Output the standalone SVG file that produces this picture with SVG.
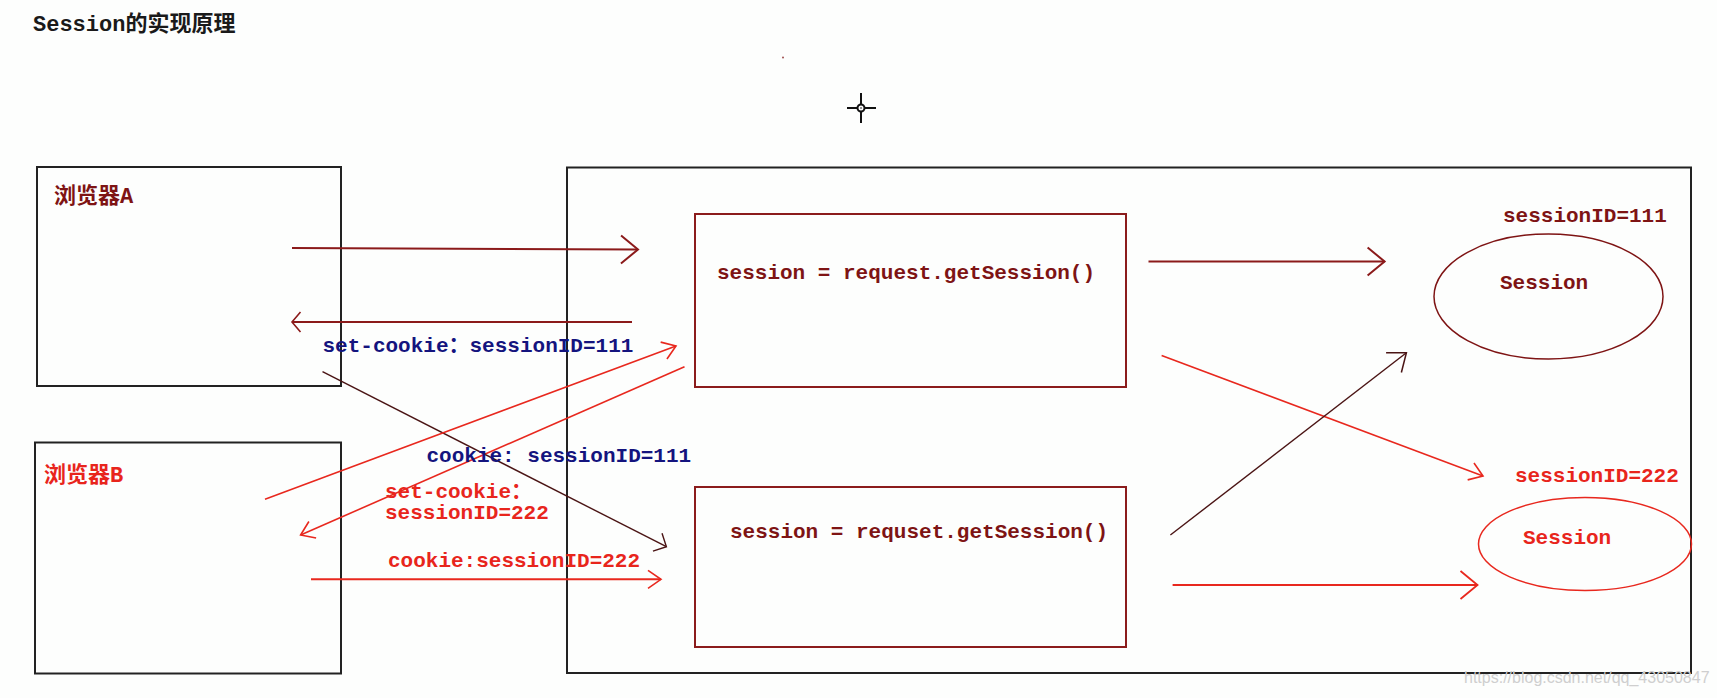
<svg xmlns="http://www.w3.org/2000/svg" width="1717" height="698" viewBox="0 0 1717 698">
<style>
.mono{font-family:"Liberation Mono","Noto Sans CJK SC",monospace;font-size:21px;font-weight:bold}
.title{font-family:"Liberation Mono","Noto Sans CJK SC",monospace;font-size:22px;font-weight:bold;fill:#1a1a1a}
.cjk{font-family:"Liberation Mono","Noto Sans CJK SC",monospace;font-size:22px;font-weight:bold}
.maroon{fill:#7e1414}
.red{fill:#e8251c}
.navy{fill:#14147e}
.obox{fill:none;stroke:#222;stroke-width:2}
.ibox{fill:none;stroke:#8b1c1c;stroke-width:2}
.lm{fill:none;stroke:#8b1a1a;stroke-width:2}
.lr{fill:none;stroke:#e8281e;stroke-width:1.6}
.lr2{fill:none;stroke:#e8281e;stroke-width:2}
.ld{fill:none;stroke:#4a1414;stroke-width:1.4}
.wm{font-family:"Liberation Sans",Arial,sans-serif;font-size:16px;fill:#cfcfcf}
</style>
<defs>
<marker id="mL" markerUnits="userSpaceOnUse" orient="auto" refX="0" refY="0" markerWidth="1" markerHeight="1" overflow="visible"><path d="M-17,-14 L0,0 L-17,14" fill="none" stroke="#8b1a1a" stroke-width="2"/></marker>
<marker id="mS" markerUnits="userSpaceOnUse" orient="auto" refX="0" refY="0" markerWidth="1" markerHeight="1" overflow="visible"><path d="M-8.5,-10 L0,0 L-8.5,10" fill="none" stroke="#8b1a1a" stroke-width="1.6"/></marker>
<marker id="rM" markerUnits="userSpaceOnUse" orient="auto" refX="0" refY="0" markerWidth="1" markerHeight="1" overflow="visible"><path d="M-13,-9 L0,0 L-13,9" fill="none" stroke="#e8281e" stroke-width="1.6"/></marker>
<marker id="rL" markerUnits="userSpaceOnUse" orient="auto" refX="0" refY="0" markerWidth="1" markerHeight="1" overflow="visible"><path d="M-17,-14 L0,0 L-17,14" fill="none" stroke="#e8281e" stroke-width="1.8"/></marker>
<marker id="dM" markerUnits="userSpaceOnUse" orient="auto" refX="0" refY="0" markerWidth="1" markerHeight="1" overflow="visible"><path d="M-10,-10 L0,0 L-10,10" fill="none" stroke="#4a1414" stroke-width="1.4"/></marker>
<marker id="dL" markerUnits="userSpaceOnUse" orient="auto" refX="0" refY="0" markerWidth="1" markerHeight="1" overflow="visible"><path d="M-16,-12.5 L0,0 L-16,12.5" fill="none" stroke="#4a1414" stroke-width="1.5"/></marker>
</defs>
<rect width="1717" height="698" fill="#fdfefd"/>
<text class="title" x="33" y="31">Session的实现原理</text>
<circle cx="783" cy="57.5" r="1" fill="#a05050"/>
<g id="cursor" stroke="#111" stroke-width="2">
<line x1="847" y1="108" x2="876" y2="108"/>
<line x1="861" y1="93" x2="861" y2="123"/>
<circle cx="861" cy="108" r="3.5" fill="#fff"/>
<circle cx="861" cy="108" r="0.8" fill="#111" stroke="none"/>
</g>
<g id="browserA">
<rect class="obox" x="37" y="167" width="304" height="219"/>
<text class="cjk maroon" x="54" y="203">浏览器A</text>
</g>
<g id="browserB">
<rect class="obox" x="35" y="442.5" width="306" height="231"/>
<text class="cjk red" x="44" y="482">浏览器B</text>
</g>
<g id="server">
<rect class="obox" x="567" y="167.5" width="1124" height="505.5"/>
</g>
<g id="getSession1">
<rect class="ibox" x="695" y="214" width="431" height="173"/>
<text class="mono maroon" x="717" y="279">session = request.getSession()</text>
</g>
<g id="getSession2">
<rect class="ibox" x="695" y="487" width="431" height="160"/>
<text class="mono maroon" x="730" y="538">session = requset.getSession()</text>
</g>
<g id="session111">
<ellipse cx="1548.5" cy="296.5" rx="114.5" ry="62.5" fill="none" stroke="#7e1414" stroke-width="1.5"/>
<text class="mono maroon" x="1500" y="289">Session</text>
<text class="mono maroon" x="1503" y="222">sessionID=111</text>
</g>
<g id="session222">
<ellipse cx="1585" cy="544" rx="106.5" ry="46.5" fill="none" stroke="#e8281e" stroke-width="1.5"/>
<text class="mono red" x="1523" y="544">Session</text>
<text class="mono red" x="1515" y="482">sessionID=222</text>
</g>
<g id="connectors">
<path class="lm" d="M292,248 L638,249.5" marker-end="url(#mL)"/>
<path class="lm" d="M632,322 L292,322" marker-end="url(#mS)"/>
<path class="ld" d="M322.5,371.7 L666.4,546.7" marker-end="url(#dM)"/>
<path class="lr" d="M265,499.3 L676,346" marker-end="url(#rM)"/>
<path class="lr" d="M684.5,366.7 L300.6,535" marker-end="url(#rM)"/>
<path class="lr2" d="M311,579.3 L661,579.3" marker-end="url(#rM)"/>
<path class="lm" d="M1148.5,261.5 L1384.6,261.5" marker-end="url(#mL)"/>
<path class="lr" d="M1161.6,355.4 L1483,476" marker-end="url(#rM)"/>
<path class="ld" d="M1170.4,535 L1406.4,352.8" marker-end="url(#dL)"/>
<path class="lr2" d="M1172.6,585 L1477.5,585" marker-end="url(#rL)"/>
</g>
<g id="labels">
<text class="mono navy" x="322.5" y="352">set-cookie：sessionID=111</text>
<text class="mono navy" x="426.5" y="462">cookie: sessionID=111</text>
<text class="mono red" x="385" y="498">set-cookie：</text>
<text class="mono red" x="385" y="519">sessionID=222</text>
<text class="mono red" x="388" y="567">cookie:sessionID=222</text>
</g>
<text class="wm" x="1464" y="683">https://blog.csdn.net/qq_43050847</text>
</svg>
